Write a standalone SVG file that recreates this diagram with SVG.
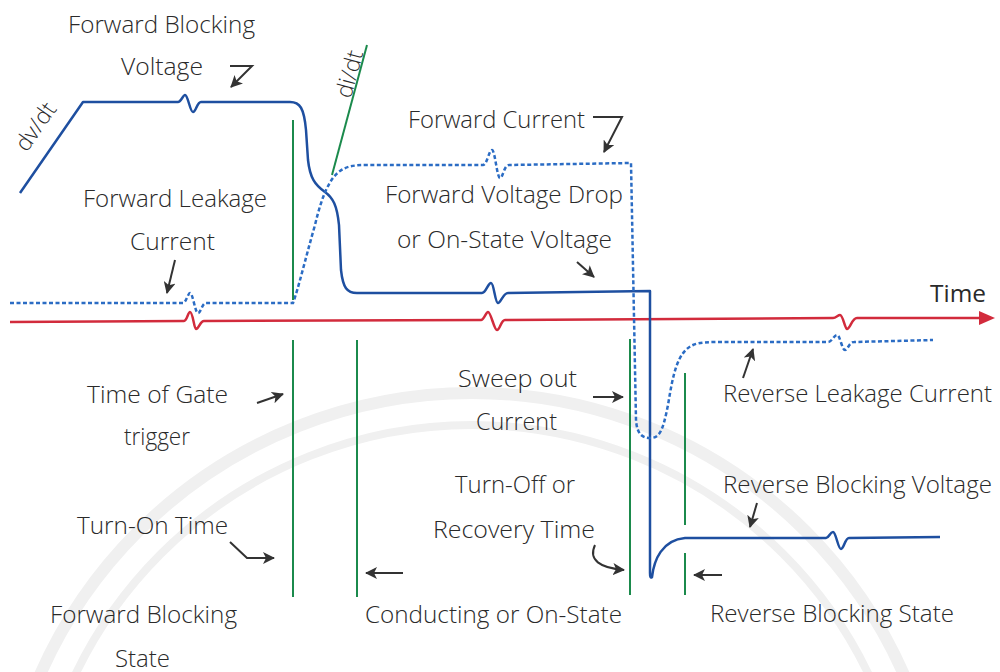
<svg xmlns="http://www.w3.org/2000/svg" width="1000" height="672" viewBox="0 0 1000 672">
<defs>
<marker id="ah" markerUnits="userSpaceOnUse" markerWidth="14" markerHeight="12" refX="11" refY="6" orient="auto">
<path d="M0,0 L12,6 L0,12 L3,6 Z" fill="#333"/>
</marker>
</defs>
<style>
.t{font-family:"Open Sans","Liberation Sans",sans-serif;font-size:23px;font-weight:300;fill:#2a2a2a}
.v{fill:none;stroke:#1e4fa0;stroke-width:2.5;stroke-linejoin:round}
.c{fill:none;stroke:#2b6cc4;stroke-width:2.5;stroke-dasharray:4 2.5}
.g{fill:none;stroke:#1b8a4c;stroke-width:2}
.r{fill:none;stroke:#d22b3c;stroke-width:2.5}
.a{fill:none;stroke:#333;stroke-width:2;marker-end:url(#ah)}
.wm{fill:none;stroke:#f0f0f0}
</style>
<rect width="1000" height="672" fill="#fff"/>
<g id="watermark">
<circle class="wm" cx="472" cy="865" r="472" stroke-width="12"/>
<circle class="wm" cx="472" cy="865" r="440" stroke-width="8"/>
</g>
<g id="connectors">
<path id="axis" class="r" d="M10,322 L184,321 C187,321 188,312 190,312 C193,312 194,329 196,329 C199,329 200,321 204,321 L481,320 C484,320 486,312 488,312 C491,312 494,330 497,330 C500,330 501,320 505,320 L833,318 C836,318 838,315 840,315 C843,315 845,329 847,329 C850,329 852,318 857,318 L980,318"/>
<polygon points="995,318 979,311 979,325" fill="#d22b3c"/>
<path id="voltage" class="v" d="M20,193 L83,102 L178,102 C181,102 183,95 185,95 C188,95 190,112 193,112 C196,112 197,102 201,102 L290,102 C300,102 304,108 306,130 L308,160 C310,178 315,185 325,192 C333,198 337,205 339,225 L341,270 C343,288 347,293 357,293 L482,293 C486,293 488,283 491,283 C494,283 495,303 498,303 C501,303 503,293 508,293 L650,291 L650,573 Q650,579 652,577 C654,560 662,540 685,538 L826,538 C829,538 830,532 833,532 C836,532 838,549 841,549 C844,549 845,538 849,538 L940,537"/>
<path id="current" class="c" d="M10,303 L183,303 C186,303 188,293 190,293 C193,293 195,313 198,313 C201,313 202,303 206,303 L293,303 C298,290 305,260 315,225 C322,195 330,178 340,171 C347,166 355,165 367,165 L483,165 C487,165 489,150 492,150 C495,150 497,178 500,178 C503,178 504,165 509,165 L631,163 L636,420 C637,435 643,438 650,438 C660,438 663,430 668,405 C673,375 677,352 693,345 C700,342 710,342 720,342 L828,342 C832,342 834,335 837,335 C840,335 842,350 845,350 C848,350 849,342 854,342 L933,340"/>
<line class="g" x1="293" y1="120" x2="293" y2="300"/>
<line class="g" x1="332" y1="175" x2="367" y2="45"/>
<line class="g" x1="293" y1="340" x2="293" y2="597"/>
<line class="g" x1="357" y1="340" x2="357" y2="597"/>
<line class="g" x1="630" y1="339" x2="630" y2="595"/>
<line class="g" x1="685" y1="373" x2="685" y2="525"/>
<line class="g" x1="685" y1="553" x2="685" y2="595"/>
<path class="a" d="M230,66 L252,66 L231,87"/>
<path class="a" d="M593,117 L622,117 L604,152"/>
<path class="a" d="M577,262 L594,277"/>
<path class="a" d="M175,260 L167,293"/>
<path class="a" d="M257,403 L283,394"/>
<path class="a" d="M230,542 L247,558 L274,558"/>
<path class="a" d="M403,573 L366,573"/>
<path class="a" d="M593,397 L623,397"/>
<path class="a" d="M595,545 C588,560 600,568 624,570"/>
<path class="a" d="M722,575 L694,575"/>
<path class="a" d="M743,378 L753,349"/>
<path class="a" d="M757,503 L750,527"/>
</g>
<g id="labels">
<text class="t" x="68" y="33" textLength="187" lengthAdjust="spacingAndGlyphs">Forward Blocking</text>
<text class="t" x="121" y="75" textLength="82" lengthAdjust="spacingAndGlyphs">Voltage</text>
<text class="t" transform="translate(42,131) rotate(-55)" text-anchor="middle">dv/dt</text>
<text class="t" transform="translate(357,76) rotate(-75)" text-anchor="middle">di/dt</text>
<text class="t" x="83" y="207" textLength="184" lengthAdjust="spacingAndGlyphs">Forward Leakage</text>
<text class="t" x="130" y="250" textLength="85" lengthAdjust="spacingAndGlyphs">Current</text>
<text class="t" x="408" y="128" textLength="177" lengthAdjust="spacingAndGlyphs">Forward Current</text>
<text class="t" x="385" y="203" textLength="238" lengthAdjust="spacingAndGlyphs">Forward Voltage Drop</text>
<text class="t" x="397" y="248" textLength="215" lengthAdjust="spacingAndGlyphs">or On-State Voltage</text>
<text class="t" x="930" y="302" textLength="56" lengthAdjust="spacingAndGlyphs" style="font-weight:500;font-size:24px">Time</text>
<text class="t" x="87" y="403" textLength="141" lengthAdjust="spacingAndGlyphs">Time of Gate</text>
<text class="t" x="124" y="445" textLength="66" lengthAdjust="spacingAndGlyphs">trigger</text>
<text class="t" x="77" y="534" textLength="151" lengthAdjust="spacingAndGlyphs">Turn-On Time</text>
<text class="t" x="50" y="623" textLength="187" lengthAdjust="spacingAndGlyphs">Forward Blocking</text>
<text class="t" x="115" y="667" textLength="55" lengthAdjust="spacingAndGlyphs">State</text>
<text class="t" x="458" y="387" textLength="119" lengthAdjust="spacingAndGlyphs">Sweep out</text>
<text class="t" x="476" y="430" textLength="81" lengthAdjust="spacingAndGlyphs">Current</text>
<text class="t" x="455" y="493" textLength="120" lengthAdjust="spacingAndGlyphs">Turn-Off or</text>
<text class="t" x="433" y="538" textLength="162" lengthAdjust="spacingAndGlyphs">Recovery Time</text>
<text class="t" x="365" y="623" textLength="257" lengthAdjust="spacingAndGlyphs">Conducting or On-State</text>
<text class="t" x="723" y="402" textLength="269" lengthAdjust="spacingAndGlyphs">Reverse Leakage Current</text>
<text class="t" x="723" y="493" textLength="269" lengthAdjust="spacingAndGlyphs">Reverse Blocking Voltage</text>
<text class="t" x="710" y="622" textLength="244" lengthAdjust="spacingAndGlyphs">Reverse Blocking State</text>
</g>
</svg>
